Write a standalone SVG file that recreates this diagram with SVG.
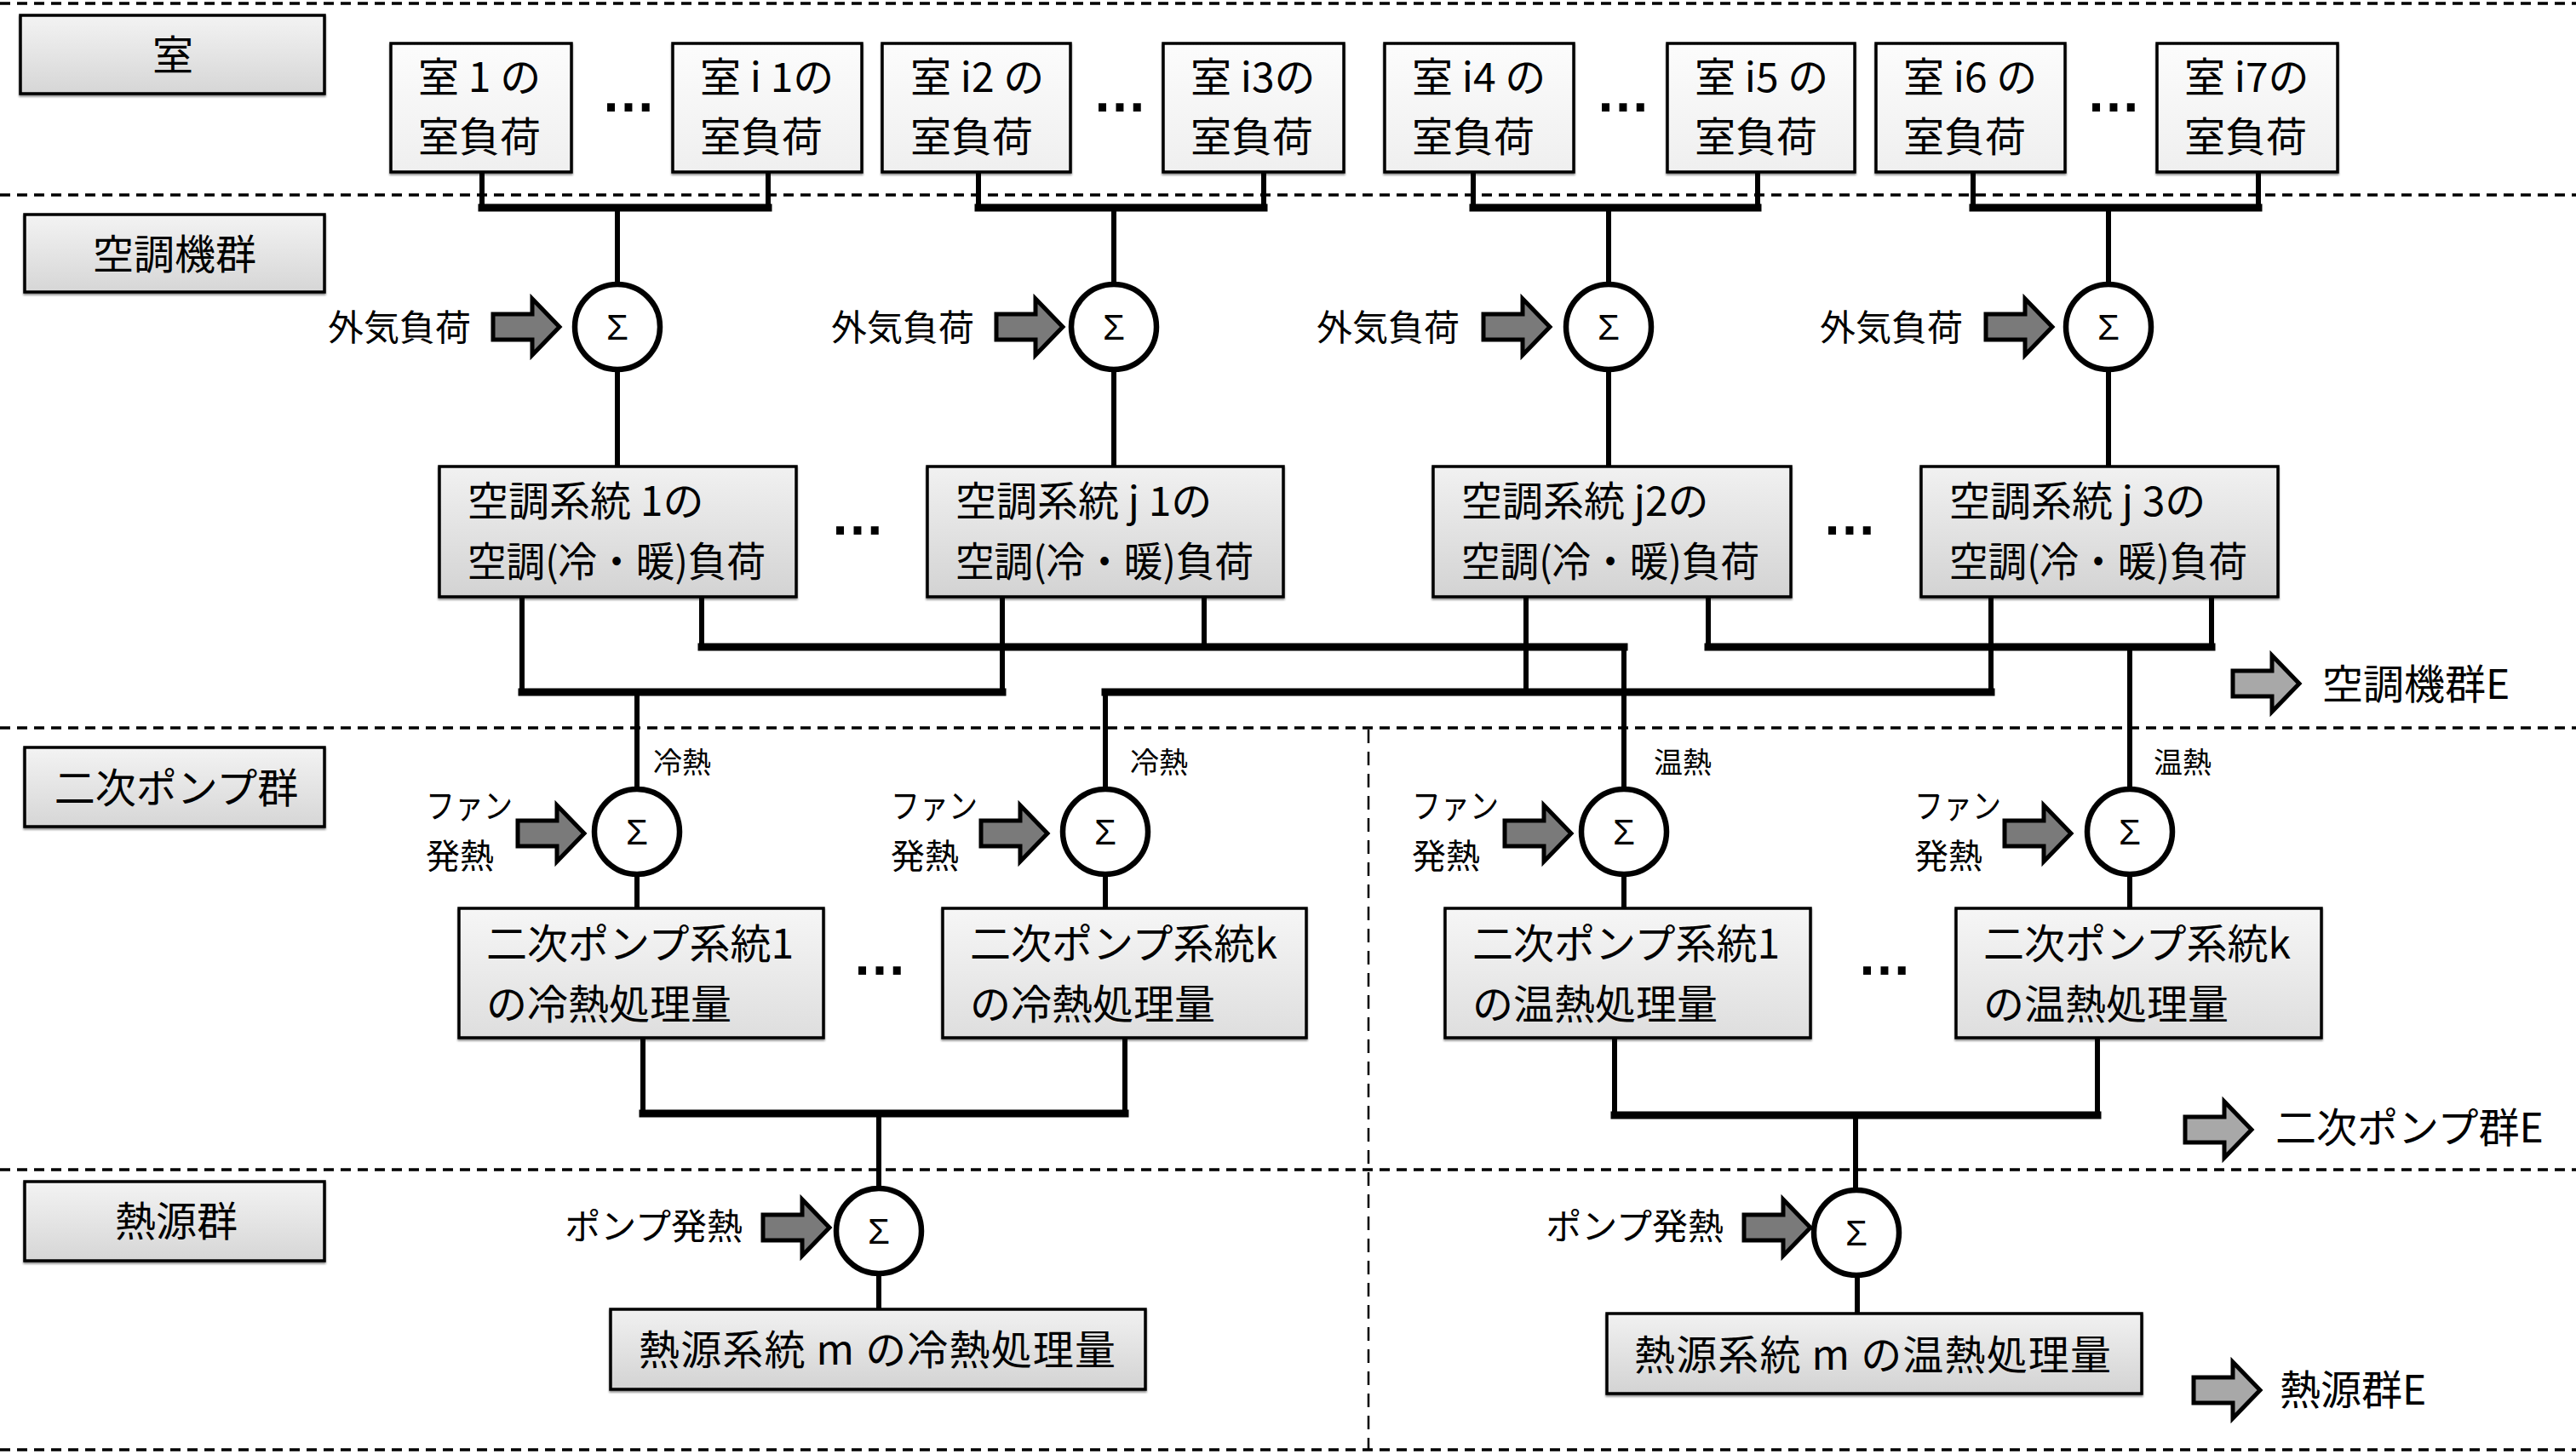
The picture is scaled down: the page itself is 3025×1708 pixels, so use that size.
<svg xmlns="http://www.w3.org/2000/svg" width="3025" height="1708" viewBox="0 0 3025 1708">
<defs>
<linearGradient id="gLane" x1="0" y1="0" x2="0" y2="1"><stop offset="0" stop-color="#f3f3f3"/><stop offset="1" stop-color="#d6d6d6"/></linearGradient>
<linearGradient id="gRoom" x1="0" y1="0" x2="0" y2="1"><stop offset="0" stop-color="#fcfcfc"/><stop offset="1" stop-color="#efefef"/></linearGradient>
<linearGradient id="gAhu" x1="0" y1="0" x2="0" y2="1"><stop offset="0" stop-color="#f1f1f1"/><stop offset="1" stop-color="#d3d3d3"/></linearGradient>
<linearGradient id="gPump" x1="0" y1="0" x2="0" y2="1"><stop offset="0" stop-color="#f6f6f6"/><stop offset="1" stop-color="#dedede"/></linearGradient>
<filter id="sh" x="-5%" y="-5%" width="110%" height="115%"><feDropShadow dx="0" dy="2" stdDeviation="1.2" flood-color="#000" flood-opacity="0.45"/></filter>
<path id="arr" d="M-78,-15 L-32,-15 L-32,-33 L0,0 L-32,33 L-32,15 L-78,15 Z"/>
</defs>
<style>
text{font-family:"Noto Sans CJK JP","Noto Sans",sans-serif;fill:#000}
.t48{font-size:48px}
.t42{font-size:42px}
.t40{font-size:40px}
.t34{font-size:34px}
.mid{text-anchor:middle}
.end{text-anchor:end}
.dots{font-family:"Liberation Sans",sans-serif;font-weight:bold;font-size:64px;text-anchor:middle}
.sig{font-family:"Liberation Sans",sans-serif;font-size:42px;text-anchor:middle}
.lane{fill:url(#gLane);stroke:#000;stroke-width:3.5;filter:url(#sh)}
.room{fill:url(#gRoom);stroke:#000;stroke-width:3.5;filter:url(#sh)}
.ahu{fill:url(#gAhu);stroke:#000;stroke-width:3.5;filter:url(#sh)}
.pump{fill:url(#gPump);stroke:#000;stroke-width:3.5;filter:url(#sh)}
.circ{fill:#fff;stroke:#000;stroke-width:6.5}
.v{stroke:#000;stroke-width:6;fill:none}
.h{stroke:#000;stroke-width:9;fill:none;stroke-linecap:square}
.dash{stroke:#000;stroke-width:3.5;stroke-dasharray:12 8;fill:none}
.vdash{stroke:#000;stroke-width:2.5;stroke-dasharray:16 10;fill:none}
.ain{fill:#7a7a7a;stroke:#000;stroke-width:5;stroke-linejoin:miter}
.aout{fill:#a8a8a8;stroke:#000;stroke-width:5;stroke-linejoin:miter}
</style>
<rect width="3025" height="1708" fill="#fff"/>

<g id="lanes">
<line class="dash" x1="0" y1="4" x2="3025" y2="4"/>
<line class="dash" x1="0" y1="229" x2="3025" y2="229"/>
<line class="dash" x1="0" y1="855" x2="3025" y2="855"/>
<line class="dash" x1="0" y1="1374" x2="3025" y2="1374"/>
<line class="dash" x1="0" y1="1703" x2="3025" y2="1703"/>
<line class="vdash" x1="1607" y1="857" x2="1607" y2="1703"/>
</g>

<g id="lane-room"><rect class="lane" x="24" y="18" width="357" height="92"/><text class="t48 mid" x="203" y="82">室</text></g>
<g id="lane-ahu"><rect class="lane" x="29" y="252" width="352" height="91"/><text class="t48 mid" x="205" y="316">空調機群</text></g>
<g id="lane-pump"><rect class="lane" x="29" y="878" width="352" height="93"/><text class="t48 mid" x="207" y="943">二次ポンプ群</text></g>
<g id="lane-heat"><rect class="lane" x="29" y="1388" width="352" height="93"/><text class="t48 mid" x="207" y="1452">熱源群</text></g>

<g id="connectors">
<path class="v" d="M566,202 V244 M902,202 V244 M725,244 V334"/>
<path class="h" d="M566,244 H902"/>
<path class="v" d="M1149,202 V244 M1484,202 V244 M1308,244 V334"/>
<path class="h" d="M1149,244 H1484"/>
<path class="v" d="M1730,202 V244 M2064,202 V244 M1889,244 V334"/>
<path class="h" d="M1730,244 H2064"/>
<path class="v" d="M2317,202 V244 M2652,202 V244 M2476,244 V334"/>
<path class="h" d="M2317,244 H2652"/>
<path class="v" d="M725,434 V548 M1308,434 V548 M1889,434 V548 M2476,434 V548"/>
<path class="v" d="M613,701 V813 M1177,698 V813 M748,813 V927"/>
<path class="h" d="M613,813 H1177"/>
<path class="v" d="M824,701 V760 M1414,701 V760 M1907,760 V927"/>
<path class="h" d="M824,760 H1907"/>
<path class="v" d="M1792,701 V813 M2338,698 V813 M1298,813 V927"/>
<path class="h" d="M1298,813 H2338"/>
<path class="v" d="M2006,701 V760 M2597,701 V760 M2501,760 V927"/>
<path class="h" d="M2006,760 H2597"/>
<path class="v" d="M748,1027 V1067 M1298,1027 V1067 M1907,1027 V1067 M2501,1027 V1067"/>
<path class="v" d="M755,1219 V1308 M1321,1219 V1308 M1032,1308 V1396"/>
<path class="h" d="M755,1308 H1321"/>
<path class="v" d="M1896,1219 V1310 M2463,1219 V1310 M2179,1310 V1398"/>
<path class="h" d="M1896,1310 H2463"/>
<path class="v" d="M1032,1496 V1538 M2181,1498 V1543"/>
</g>

<g id="room1"><rect class="room" x="459" y="51" width="212" height="151"/><text class="t48" x="491" y="108">室 1 の</text><text class="t48" x="491" y="178">室負荷</text></g>
<g id="room-i1"><rect class="room" x="790" y="51" width="222" height="151"/><text class="t48" x="822" y="108">室 i 1の</text><text class="t48" x="822" y="178">室負荷</text></g>
<g id="room-i2"><rect class="room" x="1036" y="51" width="221" height="151"/><text class="t48" x="1069" y="108">室 i2 の</text><text class="t48" x="1069" y="178">室負荷</text></g>
<g id="room-i3"><rect class="room" x="1366" y="51" width="212" height="151"/><text class="t48" x="1398" y="108">室 i3の</text><text class="t48" x="1398" y="178">室負荷</text></g>
<g id="room-i4"><rect class="room" x="1626" y="51" width="222" height="151"/><text class="t48" x="1658" y="108">室 i4 の</text><text class="t48" x="1658" y="178">室負荷</text></g>
<g id="room-i5"><rect class="room" x="1958" y="51" width="220" height="151"/><text class="t48" x="1990" y="108">室 i5 の</text><text class="t48" x="1990" y="178">室負荷</text></g>
<g id="room-i6"><rect class="room" x="2203" y="51" width="222" height="151"/><text class="t48" x="2235" y="108">室 i6 の</text><text class="t48" x="2235" y="178">室負荷</text></g>
<g id="room-i7"><rect class="room" x="2533" y="51" width="212" height="151"/><text class="t48" x="2565" y="108">室 i7の</text><text class="t48" x="2565" y="178">室負荷</text></g>
<g id="room-dots"><text class="dots" x="738" y="131">…</text><text class="dots" x="1315" y="131">…</text><text class="dots" x="1906" y="131">…</text><text class="dots" x="2482" y="131">…</text></g>

<g id="sum-ahu1"><circle class="circ" cx="725" cy="384" r="50"/><text class="sig" x="725" y="399">Σ</text></g>
<g id="sum-ahu2"><circle class="circ" cx="1308" cy="384" r="50"/><text class="sig" x="1308" y="399">Σ</text></g>
<g id="sum-ahu3"><circle class="circ" cx="1889" cy="384" r="50"/><text class="sig" x="1889" y="399">Σ</text></g>
<g id="sum-ahu4"><circle class="circ" cx="2476" cy="384" r="50"/><text class="sig" x="2476" y="399">Σ</text></g>

<g id="oa1"><use href="#arr" class="ain" transform="translate(657,384)"/><text class="t42 end" x="553" y="400">外気負荷</text></g>
<g id="oa2"><use href="#arr" class="ain" transform="translate(1248,384)"/><text class="t42 end" x="1144" y="400">外気負荷</text></g>
<g id="oa3"><use href="#arr" class="ain" transform="translate(1820,384)"/><text class="t42 end" x="1714" y="400">外気負荷</text></g>
<g id="oa4"><use href="#arr" class="ain" transform="translate(2410,384)"/><text class="t42 end" x="2305" y="400">外気負荷</text></g>

<g id="ahu1"><rect class="ahu" x="516" y="548" width="419" height="153"/><text class="t48" x="549" y="606">空調系統 1の</text><text class="t48" x="549" y="677" textLength="350" lengthAdjust="spacingAndGlyphs">空調(冷・暖)負荷</text></g>
<g id="ahu-j1"><rect class="ahu" x="1089" y="548" width="418" height="153"/><text class="t48" x="1122" y="606">空調系統 j 1の</text><text class="t48" x="1122" y="677" textLength="350" lengthAdjust="spacingAndGlyphs">空調(冷・暖)負荷</text></g>
<g id="ahu-j2"><rect class="ahu" x="1683" y="548" width="420" height="153"/><text class="t48" x="1716" y="606">空調系統 j2の</text><text class="t48" x="1716" y="677" textLength="350" lengthAdjust="spacingAndGlyphs">空調(冷・暖)負荷</text></g>
<g id="ahu-j3"><rect class="ahu" x="2256" y="548" width="419" height="153"/><text class="t48" x="2289" y="606">空調系統 j 3の</text><text class="t48" x="2289" y="677" textLength="350" lengthAdjust="spacingAndGlyphs">空調(冷・暖)負荷</text></g>
<g id="ahu-dots"><text class="dots" x="1007" y="628">…</text><text class="dots" x="2172" y="628">…</text></g>

<g id="out-ahu"><use href="#arr" class="aout" transform="translate(2700,803)"/><text class="t48" x="2727" y="821">空調機群E</text></g>

<g id="flow-labels">
<text class="t34" x="767" y="908">冷熱</text>
<text class="t34" x="1327" y="908">冷熱</text>
<text class="t34" x="1942" y="908">温熱</text>
<text class="t34" x="2529" y="908">温熱</text>
</g>

<g id="sum-p1"><circle class="circ" cx="748" cy="977" r="50"/><text class="sig" x="748" y="992">Σ</text></g>
<g id="sum-p2"><circle class="circ" cx="1298" cy="977" r="50"/><text class="sig" x="1298" y="992">Σ</text></g>
<g id="sum-p3"><circle class="circ" cx="1907" cy="977" r="50"/><text class="sig" x="1907" y="992">Σ</text></g>
<g id="sum-p4"><circle class="circ" cx="2501" cy="977" r="50"/><text class="sig" x="2501" y="992">Σ</text></g>

<g id="fan1"><use href="#arr" class="ain" transform="translate(686,979)"/><text class="t40" x="500" y="961" textLength="102" lengthAdjust="spacingAndGlyphs">ファン</text><text class="t40" x="500" y="1020">発熱</text></g>
<g id="fan2"><use href="#arr" class="ain" transform="translate(1230,979)"/><text class="t40" x="1046" y="961" textLength="102" lengthAdjust="spacingAndGlyphs">ファン</text><text class="t40" x="1046" y="1020">発熱</text></g>
<g id="fan3"><use href="#arr" class="ain" transform="translate(1845,979)"/><text class="t40" x="1658" y="961" textLength="102" lengthAdjust="spacingAndGlyphs">ファン</text><text class="t40" x="1658" y="1020">発熱</text></g>
<g id="fan4"><use href="#arr" class="ain" transform="translate(2432,979)"/><text class="t40" x="2248" y="961" textLength="102" lengthAdjust="spacingAndGlyphs">ファン</text><text class="t40" x="2248" y="1020">発熱</text></g>

<g id="pump-c1"><rect class="pump" x="539" y="1067" width="428" height="152"/><text class="t48" x="571" y="1126">二次ポンプ系統1</text><text class="t48" x="571" y="1197">の冷熱処理量</text></g>
<g id="pump-ck"><rect class="pump" x="1107" y="1067" width="427" height="152"/><text class="t48" x="1139" y="1126">二次ポンプ系統k</text><text class="t48" x="1139" y="1197">の冷熱処理量</text></g>
<g id="pump-h1"><rect class="pump" x="1697" y="1067" width="429" height="152"/><text class="t48" x="1729" y="1126">二次ポンプ系統1</text><text class="t48" x="1729" y="1197">の温熱処理量</text></g>
<g id="pump-hk"><rect class="pump" x="2297" y="1067" width="429" height="152"/><text class="t48" x="2329" y="1126">二次ポンプ系統k</text><text class="t48" x="2329" y="1197">の温熱処理量</text></g>
<g id="pump-dots"><text class="dots" x="1033" y="1145">…</text><text class="dots" x="2213" y="1145">…</text></g>

<g id="out-pump"><use href="#arr" class="aout" transform="translate(2644,1327)"/><text class="t48" x="2672" y="1342">二次ポンプ群E</text></g>

<g id="sum-hc"><circle class="circ" cx="1032" cy="1446" r="50"/><text class="sig" x="1032" y="1461">Σ</text></g>
<g id="sum-hh"><circle class="circ" cx="2180" cy="1448" r="50"/><text class="sig" x="2180" y="1463">Σ</text></g>

<g id="pp1"><use href="#arr" class="ain" transform="translate(974,1442)"/><text class="t42 end" x="872" y="1456">ポンプ発熱</text></g>
<g id="pp2"><use href="#arr" class="ain" transform="translate(2126,1442)"/><text class="t42 end" x="2024" y="1456">ポンプ発熱</text></g>

<g id="heat-c"><rect class="ahu" x="717" y="1538" width="628" height="94"/><text class="t48" x="750" y="1603" textLength="560" lengthAdjust="spacing">熱源系統 m の冷熱処理量</text></g>
<g id="heat-h"><rect class="ahu" x="1887" y="1543" width="628" height="94"/><text class="t48" x="1919" y="1609" textLength="560" lengthAdjust="spacing">熱源系統 m の温熱処理量</text></g>

<g id="out-heat"><use href="#arr" class="aout" transform="translate(2654,1633)"/><text class="t48" x="2677" y="1650">熱源群E</text></g>
</svg>
